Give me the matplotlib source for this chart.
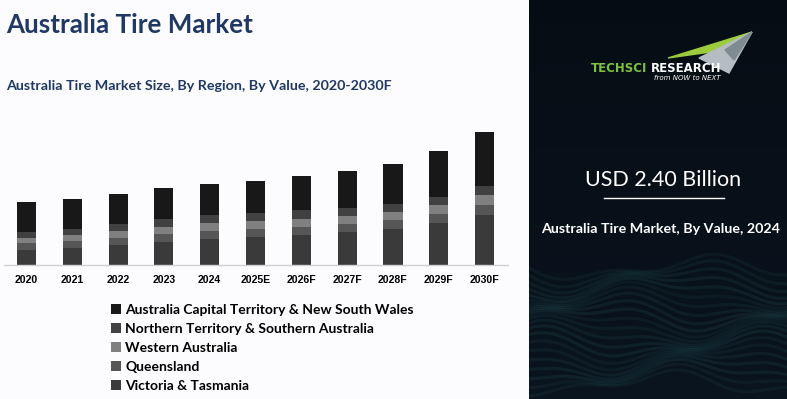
import numpy as np
import matplotlib
matplotlib.use('Agg')
import matplotlib.pyplot as plt
from matplotlib.patches import Patch, Polygon

# bar heights (pixel units, no value axis shown)
years = ['2020', '2021', '2022', '2023', '2024', '2025E', '2026F', '2027F', '2028F', '2029F', '2030F']
vic_tas = [15.0, 17.3, 20.0, 23.0, 26.3, 28.0, 30.0, 33.0, 36.0, 42.0, 50.0]
queensland = [6.7, 6.7, 7.0, 8.0, 7.3, 8.0, 8.0, 8.0, 9.0, 9.0, 10.0]
western_aus = [5.7, 6.0, 7.0, 7.0, 8.3, 8.0, 8.0, 8.0, 8.0, 9.0, 10.0]
nt_sa = [5.7, 6.0, 7.0, 8.0, 8.0, 8.0, 9.0, 8.0, 8.0, 8.0, 9.0]
act_nsw = [30.3, 30.0, 30.0, 31.0, 31.0, 32.0, 34.0, 37.0, 40.3, 46.0, 54.0]

series = [
    ('Australia Capital Territory & New South Wales', act_nsw, '#181818'),
    ('Northern Territory & Southern Australia', nt_sa, '#414141'),
    ('Western Australia', western_aus, '#808080'),
    ('Queensland', queensland, '#565656'),
    ('Victoria & Tasmania', vic_tas, '#3a3a3a'),
]

W, H = 787, 399
fig = plt.figure(figsize=(W / 100, H / 100), dpi=100)
fig.patch.set_facecolor('#fcfcfe')


def box(x0, y0, x1, y1):
    # pixel box (top-left origin) -> figure fraction
    return [x0 / W, 1 - y1 / H, (x1 - x0) / W, (y1 - y0) / H]


# right dark panel
pan = fig.add_axes(box(529, 0, W, H))
pan.axis('off')
grad = np.linspace(0, 1, 200)[:, None]
pan.imshow(np.dstack([0.02 + 0.02 * grad, 0.05 + 0.03 * grad, 0.08 + 0.04 * grad]) * np.ones((1, 10, 1)),
           extent=(0, 258, 399, 0), aspect='auto')
# teal wave texture near the bottom
xs = np.linspace(0, 258, 300)
for k in range(22):
    base = 268 + k * 5.5
    yy = base + 9 * np.sin(xs / 38 + k * 0.35) + 5 * np.sin(xs / 17 - k * 0.2)
    pan.plot(xs, yy, color='#3f8c8c', alpha=0.08 + 0.01 * (k % 5), lw=2.2)
pan.set_xlim(0, 258)
pan.set_ylim(399, 0)

# logo
pan.add_patch(Polygon([(139, 58), (223, 32), (196, 50)], closed=True, color='#9ccc3c'))
pan.add_patch(Polygon([(170, 58), (223, 32), (200, 73)], closed=True, color='#b5bcc2'))
pan.add_patch(Polygon([(196, 50), (223, 32), (205, 60)], closed=True, color='#7f8b92'))
pan.text(62, 68, 'TECHSCI', color='#7dc142', fontsize=8.5, fontweight='bold', ha='left', va='center',
         family='DejaVu Sans')
pan.text(122, 68, 'RESEARCH', color='white', fontsize=8.5, fontweight='bold', ha='left', va='center',
         family='DejaVu Sans')
pan.text(192, 78, 'from NOW to NEXT', color='white', fontsize=5, style='italic', ha='right', va='center')

pan.text(134, 180, 'USD 2.40 Billion', color='white', fontsize=15.5, ha='center', va='center',
         family='Lato')
pan.plot([75, 195], [198, 198], color='white', lw=1)
pan.text(132, 229, 'Australia Tire Market, By Value, 2024', color='white', fontsize=10.3,
         fontweight='bold', ha='center', va='center', family='Lato')

# titles
fig.text(6 / W, 1 - 25 / H, 'Australia Tire Market', color='#1f3864', fontsize=18.7,
         fontweight='bold', family='Lato', va='center', ha='left')
fig.text(6 / W, 1 - 86 / H, 'Australia Tire Market Size, By Region, By Value, 2020-2030F',
         color='#1f3864', fontsize=10.3, fontweight='bold', family='Lato', va='center', ha='left')

# bar chart
ax = fig.add_axes(box(4, 120, 508, 265))
ax.patch.set_visible(False)
x = np.arange(len(years))
bottom = np.zeros(len(years))
for name, vals, col in series[::-1]:
    ax.bar(x, vals, width=0.415, bottom=bottom, color=col, linewidth=0)
    bottom += np.array(vals)
ax.set_xlim(-0.49, 10.51)
ax.set_ylim(0, 145)
ax.set_xticks(x)
ax.set_xticklabels(years, fontsize=7.6, fontweight='bold', family='Liberation Sans')
ax.tick_params(axis='x', length=0, pad=7)
ax.set_yticks([])
for s in ['top', 'right', 'left']:
    ax.spines[s].set_visible(False)
ax.spines['bottom'].set_color('#d0d0d0')
ax.spines['bottom'].set_linewidth(1)

handles = [Patch(facecolor=c, label=n) for n, _, c in series]
leg = fig.legend(handles=handles, loc='upper left', bbox_to_anchor=(111 / W, 1 - 304 / H),
                 frameon=False, handlelength=0.72, handleheight=0.72, handletextpad=0.3,
                 labelspacing=0.5, borderaxespad=0, borderpad=0,
                 prop={'family': 'Lato', 'weight': 'bold', 'size': 10.0})

fig.savefig('out.png', dpi=100, facecolor=fig.get_facecolor())
